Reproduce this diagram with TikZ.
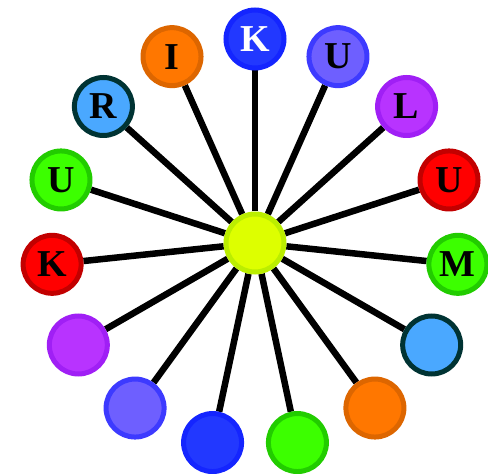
\documentclass[tikz,border=0pt]{standalone}
\usepackage{fontspec}
\setmainfont{Liberation Serif}
\usetikzlibrary{backgrounds}
\definecolor{huefill}{HTML}{DDFF00}
\definecolor{huedraw}{HTML}{BBEE00}
\definecolor{bluefill}{HTML}{2238FF}
\definecolor{bluedraw}{HTML}{1425FF}
\definecolor{violetfill}{HTML}{6E5FFF}
\definecolor{violetdraw}{HTML}{3D3AFF}
\definecolor{purplefill}{HTML}{B833FF}
\definecolor{purpledraw}{HTML}{A01FF5}
\definecolor{redfill}{HTML}{FF0000}
\definecolor{reddraw}{HTML}{C20000}
\definecolor{greenfill}{HTML}{3CFF00}
\definecolor{greendraw}{HTML}{22CC00}
\definecolor{skyfill}{HTML}{4AA8FF}
\definecolor{skydraw}{HTML}{003333}
\definecolor{orangefill}{HTML}{FF7700}
\definecolor{orangedraw}{HTML}{DD6600}

\begin{document}
\begin{tikzpicture}
    [
        x=1pt, y=1pt,
        disc/.style={circle, line width=5pt, minimum size=58pt, inner sep=0pt, font=\fontsize{38}{38}\selectfont\bfseries},
        hub_node/.style={disc, draw=huedraw, fill=huefill},
        blue_node/.style={disc, draw=bluedraw, fill=bluefill, text=white},
        violet_node/.style={disc, draw=violetdraw, fill=violetfill},
        purple_node/.style={disc, draw=purpledraw, fill=purplefill},
        red_node/.style={disc, draw=reddraw, fill=redfill},
        green_node/.style={disc, draw=greendraw, fill=greenfill},
        sky_node/.style={disc, draw=skydraw, fill=skyfill},
        orange_node/.style={disc, draw=orangedraw, fill=orangefill},
        spoke/.style={line width=6.5pt, color=black},
    ]
        \useasboundingbox (-255,-231) rectangle (233,243);
        \node[hub_node] (hub) at (0,0) {};
        \node[blue_node] (n1) at (90:204) {K};
        \node[violet_node] (n2) at (66:204) {U};
        \node[purple_node] (n3) at (42:204) {L};
        \node[red_node] (n4) at (18:204) {U};
        \node[green_node] (n5) at (-6:204) {M};
        \node[sky_node] (n6) at (-30:204) {};
        \node[orange_node] (n7) at (-54:204) {};
        \node[green_node] (n8) at (-78:204) {};
        \node[blue_node] (n9) at (-102:204) {};
        \node[violet_node] (n10) at (-126:204) {};
        \node[purple_node] (n11) at (-150:204) {};
        \node[red_node] (n12) at (186:204) {K};
        \node[green_node] (n13) at (162:204) {U};
        \node[sky_node] (n14) at (138:204) {R};
        \node[orange_node] (n15) at (114:204) {I};
        \begin{scope}[on background layer]
            \draw[spoke] (hub) -- (n1) ;
            \draw[spoke] (hub) -- (n2) ;
            \draw[spoke] (hub) -- (n3) ;
            \draw[spoke] (hub) -- (n4) ;
            \draw[spoke] (hub) -- (n5) ;
            \draw[spoke] (hub) -- (n6) ;
            \draw[spoke] (hub) -- (n7) ;
            \draw[spoke] (hub) -- (n8) ;
            \draw[spoke] (hub) -- (n9) ;
            \draw[spoke] (hub) -- (n10) ;
            \draw[spoke] (hub) -- (n11) ;
            \draw[spoke] (hub) -- (n12) ;
            \draw[spoke] (hub) -- (n13) ;
            \draw[spoke] (hub) -- (n14) ;
            \draw[spoke] (hub) -- (n15) ;
        \end{scope}
    \end{tikzpicture}
\end{document}
